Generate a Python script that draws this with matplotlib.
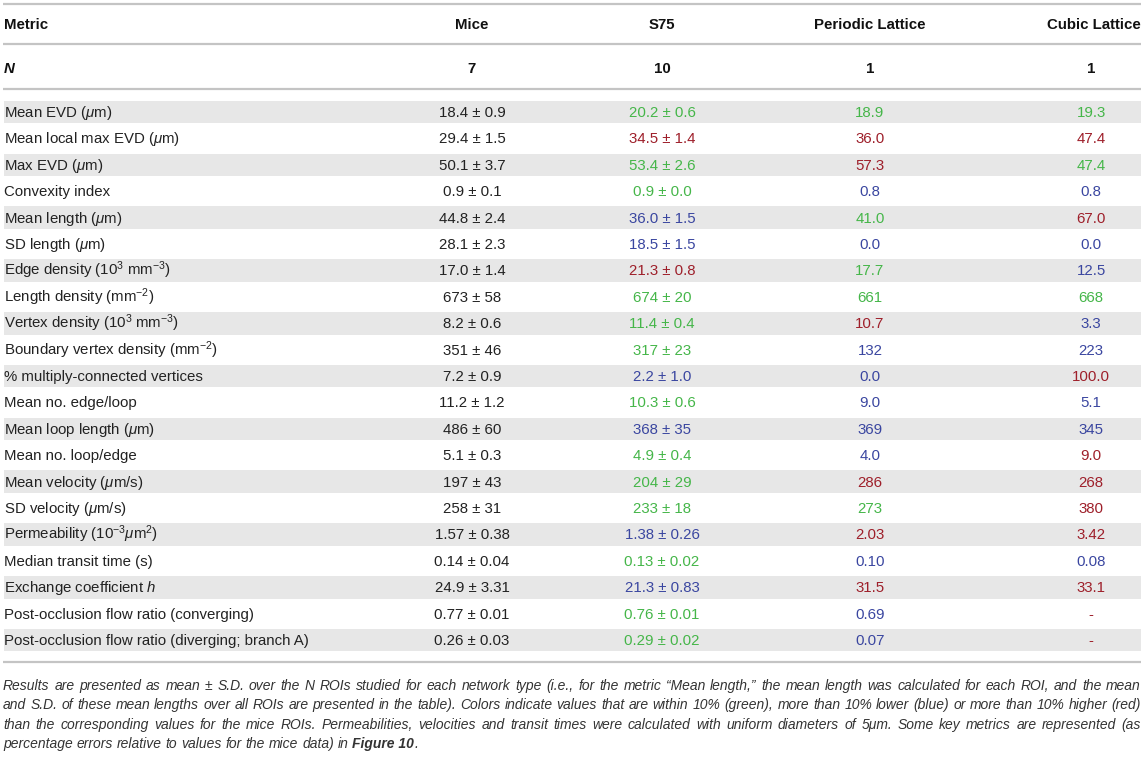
import matplotlib
matplotlib.use("Agg")
import matplotlib.pyplot as plt

plt.rcParams['font.family'] = ['Liberation Sans', 'DejaVu Sans']
plt.rcParams['mathtext.fontset'] = 'custom'
plt.rcParams['mathtext.rm'] = 'Liberation Sans'
plt.rcParams['mathtext.it'] = 'Liberation Sans:italic'
plt.rcParams['mathtext.bf'] = 'Liberation Sans:bold'

# table content
columns = ["Metric", "Mice", "S75", "Periodic Lattice", "Cubic Lattice"]
n_rois = ["7", "10", "1", "1"]

metrics = [
    r"Mean EVD ($\mu$m)",
    r"Mean local max EVD ($\mu$m)",
    r"Max EVD ($\mu$m)",
    "Convexity index",
    r"Mean length ($\mu$m)",
    r"SD length ($\mu$m)",
    r"Edge density (10$^3$ mm$^{-3}$)",
    r"Length density (mm$^{-2}$)",
    r"Vertex density (10$^3$ mm$^{-3}$)",
    r"Boundary vertex density (mm$^{-2}$)",
    "% multiply-connected vertices",
    "Mean no. edge/loop",
    r"Mean loop length ($\mu$m)",
    "Mean no. loop/edge",
    r"Mean velocity ($\mu$m/s)",
    r"SD velocity ($\mu$m/s)",
    r"Permeability (10$^{-3}$$\mu$m$^2$)",
    "Median transit time (s)",
    r"Exchange coefficient $h$",
    "Post-occlusion flow ratio (converging)",
    "Post-occlusion flow ratio (diverging; branch A)",
]

mice = ["18.4 ± 0.9", "29.4 ± 1.5", "50.1 ± 3.7", "0.9 ± 0.1", "44.8 ± 2.4",
        "28.1 ± 2.3", "17.0 ± 1.4", "673 ± 58", "8.2 ± 0.6", "351 ± 46",
        "7.2 ± 0.9", "11.2 ± 1.2", "486 ± 60", "5.1 ± 0.3", "197 ± 43",
        "258 ± 31", "1.57 ± 0.38", "0.14 ± 0.04", "24.9 ± 3.31", "0.77 ± 0.01",
        "0.26 ± 0.03"]
s75 = ["20.2 ± 0.6", "34.5 ± 1.4", "53.4 ± 2.6", "0.9 ± 0.0", "36.0 ± 1.5",
       "18.5 ± 1.5", "21.3 ± 0.8", "674 ± 20", "11.4 ± 0.4", "317 ± 23",
       "2.2 ± 1.0", "10.3 ± 0.6", "368 ± 35", "4.9 ± 0.4", "204 ± 29",
       "233 ± 18", "1.38 ± 0.26", "0.13 ± 0.02", "21.3 ± 0.83", "0.76 ± 0.01",
       "0.29 ± 0.02"]
s75_cls = ["g", "r", "g", "g", "b", "b", "r", "g", "g", "g", "b",
           "g", "b", "g", "g", "g", "b", "g", "b", "g", "g"]
periodic = ["18.9", "36.0", "57.3", "0.8", "41.0", "0.0", "17.7", "661", "10.7",
            "132", "0.0", "9.0", "369", "4.0", "286", "273", "2.03", "0.10",
            "31.5", "0.69", "0.07"]
periodic_cls = ["g", "r", "r", "b", "g", "b", "g", "g", "r", "b", "b",
                "b", "b", "b", "r", "g", "r", "b", "r", "b", "b"]
cubic = ["19.3", "47.4", "47.4", "0.8", "67.0", "0.0", "12.5", "668", "3.3",
         "223", "100.0", "5.1", "345", "9.0", "268", "380", "3.42", "0.08",
         "33.1", "-", "-"]
cubic_cls = ["g", "r", "g", "b", "r", "b", "b", "g", "b", "b", "r",
             "b", "b", "r", "r", "r", "r", "b", "r", "r", "r"]

caption_lines = [
    "Results are presented as mean ± S.D. over the N ROIs studied for each network type (i.e., for the metric \u201cMean length,\u201d the mean length was calculated for each ROI, and the mean",
    "and S.D. of these mean lengths over all ROIs are presented in the table). Colors indicate values that are within 10% (green), more than 10% lower (blue) or more than 10% higher (red)",
    "than the corresponding values for the mice ROIs. Permeabilities, velocities and transit times were calculated with uniform diameters of 5\u03bcm. Some key metrics are represented (as",
]
caption_last = "percentage errors relative to values for the mice data) in "
caption_ref = "Figure 10"

colors = {"g": "#45b649", "b": "#3a46a0", "r": "#9e1f2a", "k": "#222222"}

W, H = 1147, 757
fig = plt.figure(figsize=(W / 100, H / 100), dpi=100)
ax = fig.add_axes([0, 0, 1, 1])
ax.set_xlim(0, W)
ax.set_ylim(H, 0)
ax.axis('off')

fs = 10.8
col_x = [4, 472, 662, 870, 1091]
left, right = 3, 1141
line_col = "#c4c4c4"

for y in [3.5, 44, 89, 662]:
    ax.plot([left, right], [y, y], color=line_col, lw=1.6, solid_capstyle='butt')

# header
ax.text(col_x[0], 24 + 5, columns[0], fontsize=fs, fontweight='bold', va='baseline', ha='left', color='#111111')
for i in range(1, 4):
    ax.text(col_x[i], 24 + 5, columns[i], fontsize=fs, fontweight='bold', va='baseline', ha='center', color='#111111')
ax.text(right, 24 + 5, columns[4], fontsize=fs, fontweight='bold', va='baseline', ha='right', color='#111111')

ax.text(col_x[0], 68 + 5, "N", fontsize=fs, fontweight='bold', style='italic', va='baseline', ha='left', color='#111111')
for i, v in enumerate(n_rois):
    ax.text(col_x[i + 1], 68 + 5, v, fontsize=fs, fontweight='bold', va='baseline', ha='center', color='#111111')

row0, step = 112, 26.4
for r in range(len(metrics)):
    yc = row0 + r * step
    if r % 2 == 0:
        ax.add_patch(plt.Rectangle((4, yc - 11.2), 1137, 22.5, color="#e7e7e7", lw=0))
    yb = yc + 5
    ax.text(col_x[0], yb, metrics[r], fontsize=fs, va='baseline', ha='left', color=colors["k"])
    ax.text(col_x[1], yb, mice[r], fontsize=fs, va='baseline', ha='center', color=colors["k"])
    ax.text(col_x[2], yb, s75[r], fontsize=fs, va='baseline', ha='center', color=colors[s75_cls[r]])
    ax.text(col_x[3], yb, periodic[r], fontsize=fs, va='baseline', ha='center', color=colors[periodic_cls[r]])
    ax.text(col_x[4], yb, cubic[r], fontsize=fs, va='baseline', ha='center', color=colors[cubic_cls[r]])

# caption, justified by spreading the words
fig.canvas.draw()
renderer = fig.canvas.get_renderer()
cap_kw = dict(fontsize=10, style='italic', va='baseline', ha='left', color='#333333')


def text_width(s, **kw):
    t = ax.text(0, 0, s, **kw)
    w = t.get_window_extent(renderer).width
    t.remove()
    return w


# pick the caption size so the longest line nearly fills the width
natural = max(text_width(l, **cap_kw) for l in caption_lines)
cap_kw['fontsize'] = 10 * (right - left - 8) / natural

cap_base = [690, 709, 729]
for line, yb in zip(caption_lines, cap_base):
    words = line.split(" ")
    widths = [text_width(w, **cap_kw) for w in words]
    gap = (right - left - sum(widths)) / (len(words) - 1)
    x = left
    for w, wd in zip(words, widths):
        ax.text(x, yb, w, **cap_kw)
        x += wd + gap

space_w = text_width("a a", **cap_kw) - 2 * text_width("a", **cap_kw)
x = left
for w in caption_last.split(" ")[:-1]:
    ax.text(x, 748, w, **cap_kw)
    x += text_width(w, **cap_kw) + space_w
ref_kw = dict(cap_kw)
ref_kw['fontweight'] = 'bold'
ax.text(x, 748, caption_ref, **ref_kw)
x += text_width(caption_ref, **ref_kw)
ax.text(x, 748, ".", **cap_kw)

fig.savefig("out.png", dpi=100)
